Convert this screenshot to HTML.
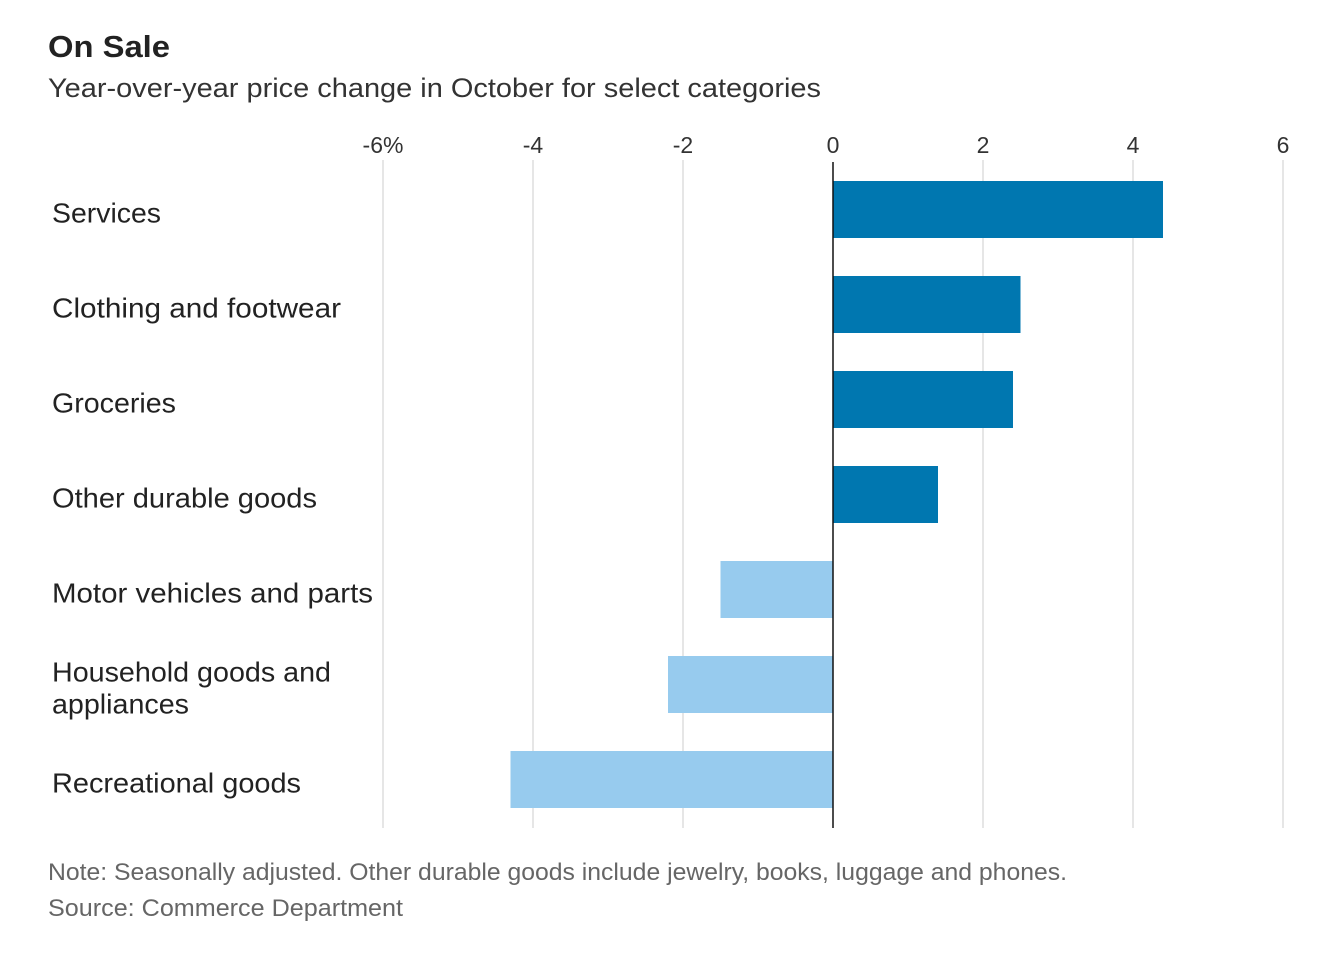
<!DOCTYPE html>
<html><head><meta charset="utf-8"><style>
body{margin:0;background:#fff;width:1342px;height:950px;overflow:hidden;font-family:"Liberation Sans",sans-serif;}
</style></head><body>
<svg width="1342" height="950" xmlns="http://www.w3.org/2000/svg">
<text x="48" y="57" font-size="31" font-weight="bold" fill="#222" textLength="122" lengthAdjust="spacingAndGlyphs">On Sale</text>
<text x="48" y="97" font-size="27" fill="#333" textLength="773" lengthAdjust="spacingAndGlyphs">Year-over-year price change in October for select categories</text>
<g id="grid"></g>
<g id="bars"></g>
<g id="labels"></g>
<text x="48" y="880" font-size="24" fill="#666" textLength="1019" lengthAdjust="spacingAndGlyphs">Note: Seasonally adjusted. Other durable goods include jewelry, books, luggage and phones.</text>
<text x="48" y="916" font-size="24" fill="#666" textLength="355" lengthAdjust="spacingAndGlyphs">Source: Commerce Department</text>
</svg>
<script>
const categories=["Services","Clothing and footwear","Groceries","Other durable goods","Motor vehicles and parts","Household goods and appliances","Recreational goods"];
const values=[4.4,2.5,2.4,1.4,-1.5,-2.2,-4.3];
const ticks=[-6,-4,-2,0,2,4,6];
const tickLabels=["-6%","-4","-2","0","2","4","6"];
const labelWidths={"Services":109,"Clothing and footwear":289,"Groceries":124,"Other durable goods":265,"Motor vehicles and parts":321,"Household goods and":279,"appliances":137,"Recreational goods":249};
const NS="http://www.w3.org/2000/svg";
const x=v=>833+v*75;
const rowY=i=>181+i*95;
const barH=57;
function mk(t,a,p){const e=document.createElementNS(NS,t);for(const k in a)e.setAttribute(k,a[k]);p.appendChild(e);return e;}
const g=document.getElementById('grid'),b=document.getElementById('bars'),l=document.getElementById('labels');
ticks.forEach((t,i)=>{
 if(t!==0){const ln=mk('line',{x1:x(t),x2:x(t),y1:160,y2:828,stroke:'#ddd','stroke-width':1.5},g);
 
 }
 const tx=mk('text',{x:x(t),y:153,'font-size':23,fill:'#333','text-anchor':'middle'},g);tx.textContent=tickLabels[i];
 
 
});
function label(txt,y){
 const t=mk('text',{x:52,y:y,'font-size':28,fill:'#222',textLength:labelWidths[txt],lengthAdjust:'spacingAndGlyphs'},l);t.textContent=txt;
 
 
}
values.forEach((v,i)=>{
 const r=mk('rect',{x:Math.min(x(0),x(v)),y:rowY(i),width:Math.abs(x(v)-x(0)),height:barH,fill:v>=0?'#0077b0':'#97cbee'},b);
 
 
 const c=categories[i];
 const cy=rowY(i)+barH/2;
 if(c==="Household goods and appliances"){
  label("Household goods and",cy-3);
  label("appliances",cy+29);
 }else{
  label(c,cy+13);
 }
});
const z=mk('line',{x1:x(0),x2:x(0),y1:162,y2:828,stroke:'#111','stroke-width':1.5},b);


</script>
</body></html>
